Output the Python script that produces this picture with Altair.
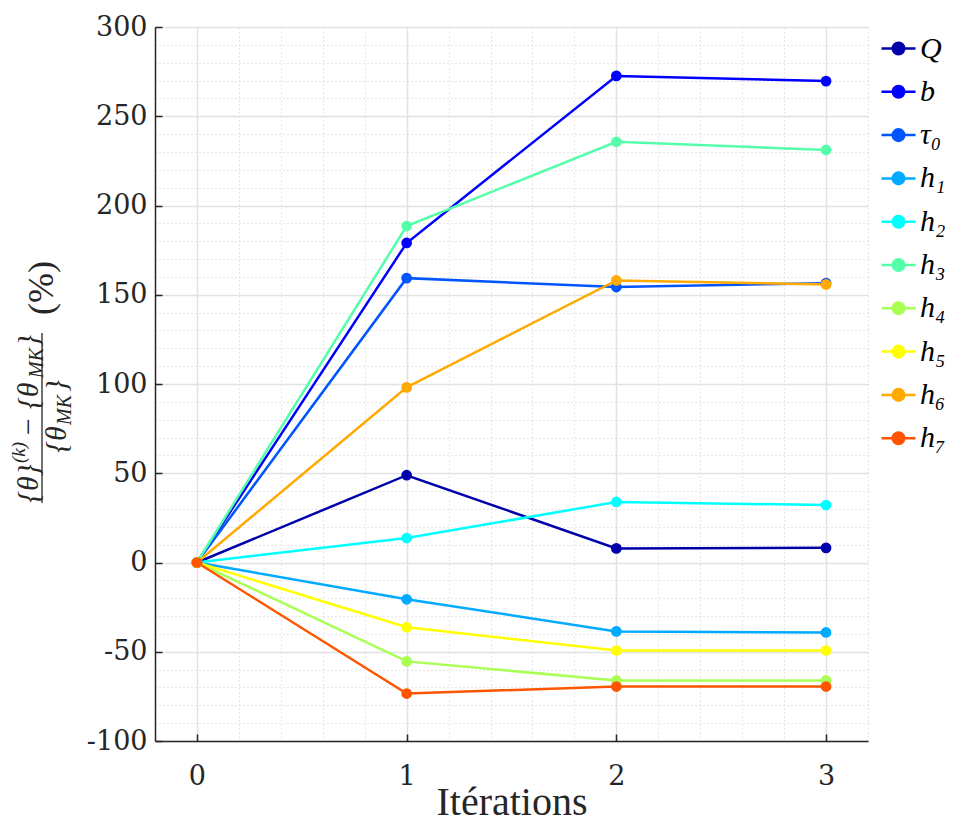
import altair as alt
import pandas as pd

iterations = [0, 1, 2, 3]
series_names = ["Q", "b", "τ₀", "h₁", "h₂", "h₃", "h₄", "h₅", "h₆", "h₇"]
series_colors = ["#0000AA", "#0000FF", "#0055FF", "#00AAFF", "#00FFFF",
                 "#55FFAA", "#AAFF55", "#FFFF00", "#FFAA00", "#FF5500"]
values_Q = [0, 48.9, 7.9, 8.2]
values_b = [0, 179.0, 272.6, 269.7]
values_tau0 = [0, 159.3, 154.3, 156.5]
values_h1 = [0, -20.6, -38.6, -39.2]
values_h2 = [0, 13.7, 33.9, 32.2]
values_h3 = [0, 188.5, 235.7, 231.1]
values_h4 = [0, -55.4, -66.1, -66.1]
values_h5 = [0, -36.3, -49.3, -49.3]
values_h6 = [0, 98.1, 158.0, 155.8]
values_h7 = [0, -73.4, -69.5, -69.5]

x_major = [0, 1, 2, 3]
x_minor = [-0.2, 0.2, 0.4, 0.6, 0.8, 1.2, 1.4, 1.6, 1.8, 2.2, 2.4, 2.6, 2.8, 3.2]
y_major = [-100, -50, 0, 50, 100, 150, 200, 250, 300]
y_minor = [v for v in range(-100, 301, 10) if v % 50 != 0]

all_values = [values_Q, values_b, values_tau0, values_h1, values_h2,
              values_h3, values_h4, values_h5, values_h6, values_h7]
rows = []
for name, vals in zip(series_names, all_values):
    for it, v in zip(iterations, vals):
        rows.append({"it": it, "val": v, "series": name})
df = pd.DataFrame(rows)

W, H = 713, 714
xs = alt.Scale(domain=[-0.2, 3.2], nice=False, zero=False)
ys = alt.Scale(domain=[-100, 300], nice=False, zero=False)
FONT = "DejaVu Serif"
TITLE_FONT = "Liberation Serif"

base = alt.Chart(df)

# minor dotted grid
minor = base.mark_point(opacity=0).encode(
    x=alt.X("it:Q", scale=xs, axis=alt.Axis(values=x_minor, grid=True, gridDash=[1, 3],
                                            gridColor="#cfcfcf", gridWidth=1, labels=False,
                                            ticks=False, domain=False, title=None, orient="top")),
    y=alt.Y("val:Q", scale=ys, axis=alt.Axis(values=y_minor, grid=True, gridDash=[1, 3],
                                             gridColor="#cfcfcf", gridWidth=1, labels=False,
                                             ticks=False, domain=False, title=None, orient="right")),
)

# inward ticks
tick_layer = base.mark_point(opacity=0).encode(
    x=alt.X("it:Q", scale=xs, axis=alt.Axis(values=x_major, grid=False, labels=False, ticks=True,
                                            tickSize=7, tickColor="#262626", tickWidth=1.5,
                                            domain=False, title=None, orient="bottom", offset=-7)),
    y=alt.Y("val:Q", scale=ys, axis=alt.Axis(values=y_major, grid=False, labels=False, ticks=True,
                                             tickSize=7, tickColor="#262626", tickWidth=1.5,
                                             domain=False, title=None, orient="left", offset=-7)),
)

color = alt.Color("series:N", scale=alt.Scale(domain=series_names, range=series_colors),
                  sort=series_names,
                  legend=alt.Legend(title=None, orient="none", legendX=725, legendY=3,
                                    symbolType="M-1,0H1M0.34,0A0.34,0.34 0 1 1 -0.34,0A0.34,0.34 0 1 1 0.34,0Z",
                                    symbolSize=1156, symbolStrokeWidth=2.5,
                                    labelFont=TITLE_FONT, labelFontStyle="italic",
                                    labelFontSize=30, labelColor="#000000", labelOffset=3,
                                    rowPadding=9.3, labelLimit=200))

main_x = alt.X("it:Q", scale=xs, axis=alt.Axis(values=x_major, grid=True, gridColor="#e2e2e2",
                                              gridWidth=1.5, ticks=False, domain=True,
                                              domainColor="#262626", domainWidth=1.5,
                                              labelFont=FONT, labelFontSize=27, labelColor="#262626",
                                              labelPadding=22, title="Itérations",
                                              titleFont=TITLE_FONT, titleFontSize=40,
                                              titleFontWeight="normal", titleColor="#262626",
                                              titlePadding=-7, orient="bottom"))
main_y = alt.Y("val:Q", scale=ys, axis=alt.Axis(values=y_major, grid=True, gridColor="#e2e2e2",
                                               gridWidth=1.5, ticks=False, domain=True,
                                               domainColor="#262626", domainWidth=1.5,
                                               labelFont=FONT, labelFontSize=27, labelColor="#262626",
                                               labelPadding=8, labelExpr="'' + datum.value",
                                               title=None, orient="left"))

lines = base.mark_line(strokeWidth=2.5).encode(x=main_x, y=main_y, color=color,
                                               order=alt.Order("it:Q"))
points = base.mark_point(filled=True, size=115, opacity=1).encode(
    x=alt.X("it:Q", scale=xs, axis=None), y=alt.Y("val:Q", scale=ys, axis=None), color=color)

# y-axis title drawn as a fraction (rotated text pieces)
one = pd.DataFrame({"k": [0]})
tfont = dict(font=TITLE_FONT, fontStyle="italic", color="#262626", angle=270, baseline="middle")


def piece(txt, x, y, size, align="left", dx=0, dy=0):
    return alt.Chart(one).mark_text(align=align, fontSize=size, dx=dx, dy=dy, **tfont).encode(
        x=alt.value(x), y=alt.value(y), text=alt.value(txt))


NX, NY = -126, 476
num_parts = [
    piece("{θ}", NX, NY, 30),
    piece("(k)", NX, NY, 19, dx=40, dy=-10),
    piece("− {θ", NX, NY, 30, dx=66),
    piece("MK", NX, 308, 20, align="right", dx=-13, dy=8),
    piece("}", NX, 308, 30, align="right"),
]
DX, DY = -98, 426
den_parts = [
    piece("{θ", DX, DY, 30),
    piece("MK", DX, DY, 20, dx=28, dy=8),
    piece("}", DX, 353, 30, align="right"),
]
frac_bar = alt.Chart(one).mark_rule(color="#262626", strokeWidth=1.3).encode(
    x=alt.value(-113), y=alt.value(306), y2=alt.value(476))
pct = alt.Chart(one).mark_text(align="center", fontSize=36, font=TITLE_FONT, color="#262626",
                               angle=270, baseline="middle").encode(
    x=alt.value(-113), y=alt.value(261), text=alt.value("(%)"))

chart = alt.layer(
    minor, tick_layer, lines, points, *num_parts, *den_parts, frac_bar, pct
).resolve_axis(x="independent", y="independent").properties(
    width=W, height=H,
    autosize=alt.AutoSizeParams(type="none"),
    padding={"left": 147, "top": 19, "right": 79, "bottom": 81},
    background="white",
).configure_view(stroke=None)

chart.save("out.html", embed_options={"renderer": "svg", "actions": False})
